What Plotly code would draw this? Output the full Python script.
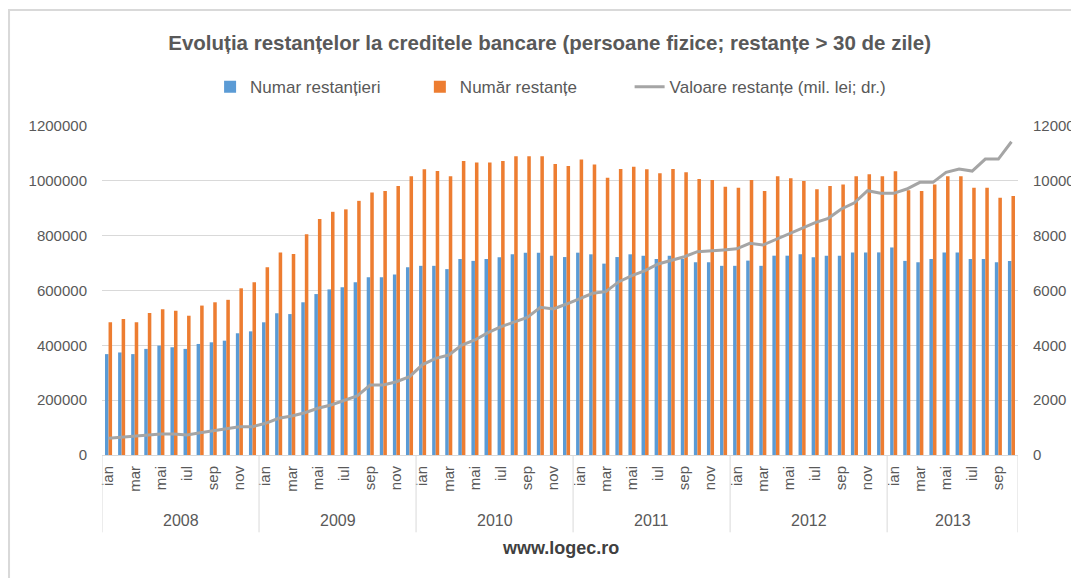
import plotly.graph_objects as go

years = ["2008", "2009", "2010", "2011", "2012", "2013"]
months = ["ian", "feb", "mar", "apr", "mai", "iun", "iul", "aug", "sep", "oct", "nov", "dec"]

# Numar restantieri (left axis)
restantieri = [
    368000, 374000, 368000, 387000, 399000, 393000, 387000, 405000, 411000, 417000, 444000, 451000,
    484000, 517000, 514000, 557000, 587000, 604000, 612000, 630000, 648000, 648000, 658000, 685000,
    690000, 690000, 678000, 715000, 708000, 715000, 721000, 732000, 738000, 738000, 727000, 722000,
    738000, 732000, 698000, 722000, 732000, 727000, 715000, 727000, 715000, 703000, 703000, 690000,
    690000, 709000, 690000, 727000, 727000, 732000, 721000, 727000, 727000, 739000, 739000, 739000,
    757000, 708000, 703000, 715000, 739000, 739000, 715000, 715000, 703000, 708000,
]

# Numar restante (left axis)
restante = [
    484000, 496000, 484000, 518000, 532000, 526000, 508000, 545000, 557000, 566000, 608000, 630000,
    685000, 739000, 733000, 805000, 861000, 887000, 896000, 927000, 957000, 963000, 981000, 1017000,
    1042000, 1036000, 1017000, 1072000, 1067000, 1067000, 1072000, 1090000, 1090000, 1090000, 1061000, 1054000,
    1078000, 1060000, 1011000, 1043000, 1051000, 1042000, 1028000, 1043000, 1031000, 1007000, 1003000, 978000,
    975000, 1003000, 963000, 1017000, 1009000, 999000, 969000, 981000, 987000, 1017000, 1024000, 1017000,
    1035000, 966000, 963000, 987000, 1017000, 1017000, 975000, 975000, 938000, 945000,
]

# Valoare restante (mil. lei; right axis)
valoare = [
    609, 646, 668, 704, 766, 766, 729, 813, 886, 974, 1032, 1032,
    1156, 1338, 1422, 1543, 1703, 1824, 1980, 2152, 2553, 2553, 2673, 2856,
    3300, 3526, 3647, 4012, 4194, 4461, 4680, 4862, 5021, 5386, 5325, 5507,
    5714, 5897, 5957, 6322, 6540, 6722, 6966, 7086, 7232, 7415, 7440, 7480,
    7520, 7720, 7659, 7866, 8085, 8292, 8475, 8632, 8972, 9201, 9639, 9544,
    9544, 9701, 9945, 9945, 10310, 10430, 10357, 10795, 10795, 11426,
]

n = len(valoare)
x = list(range(n))
month_labels = [months[i % 12] for i in range(n)]
tickvals = [i for i in range(n) if i % 2 == 0]
ticktext = [month_labels[i] for i in tickvals]

FONT = "Liberation Sans"
GRAY = "#595959"

fig = go.Figure()
fig.add_trace(go.Bar(x=x, y=restantieri, name="Numar restanțieri", marker_color="#5b9bd5",
                     marker_line_width=0, legend="legend"))
fig.add_trace(go.Bar(x=x, y=restante, name="Număr restanțe", marker_color="#ed7d31",
                     marker_line_width=0, legend="legend2"))
fig.add_trace(go.Scatter(x=x, y=valoare, name="Valoare restanțe (mil. lei; dr.)", yaxis="y2",
                         mode="lines", line=dict(color="#a5a5a5", width=3), legend="legend3"))

# year labels
nyears = (n + 11) // 12
for k in range(nyears):
    start = k * 12 - 0.5
    end = min(k * 12 + 11.5, n - 0.5)
    fig.add_annotation(x=(start + end) / 2, y=-0.198, xref="x", yref="paper", text=years[k],
                       showarrow=False, font=dict(family=FONT, size=16, color=GRAY),
                       yanchor="middle")
# dividers
div_pos = [k * 12 - 0.5 for k in range(nyears)] + [n - 0.5]
for p in div_pos:
    fig.add_shape(type="line", x0=p, x1=p, xref="x", y0=0, y1=-0.235, yref="paper",
                  line=dict(color="#d9d9d9", width=1))

fig.add_annotation(x=0.501, y=-0.283, xref="paper", yref="paper", text="<b>www.logec.ro</b>",
                   showarrow=False, font=dict(family=FONT, size=18, color="#404040"),
                   yanchor="middle")

# chart border
fig.add_shape(type="rect", xref="paper", yref="paper", x0=-0.1015, x1=1.2, y0=-0.6, y1=1.3526,
              line=dict(color="#d9d9d9", width=2), layer="below")

leg_common = dict(orientation="h", xanchor="left", y=1.118, yanchor="middle",
                  font=dict(family=FONT, size=17, color=GRAY), bgcolor="rgba(0,0,0,0)",
                  itemwidth=30)

fig.update_layout(
    width=1079, height=578,
    margin=dict(l=94, r=69, t=118, b=131),
    paper_bgcolor="white", plot_bgcolor="white",
    title=dict(text="<b>Evoluția restanțelor la creditele bancare (persoane fizice; restanțe > 30 de zile)</b>",
               x=0.502, xanchor="center", y=1 - 35 / 578, yanchor="middle",
               font=dict(family=FONT, size=20.5, color=GRAY)),
    barmode="group", bargap=0.46, bargroupgap=0,
    showlegend=True,
    legend=dict(x=0.118, **leg_common),
    legend2=dict(x=0.347, **leg_common),
    legend3=dict(x=0.576, **leg_common),
    xaxis=dict(range=[-0.5, n - 0.5], tickmode="array", tickvals=tickvals, ticktext=ticktext,
               tickangle=-90, showgrid=False, zeroline=False, showline=True,
               linecolor="#d9d9d9", linewidth=1, ticks="",
               tickfont=dict(family=FONT, size=15, color=GRAY), ticklabelstandoff=4),
    yaxis=dict(range=[0, 1200000], dtick=200000, tickformat="d", showgrid=True,
               gridcolor="#d9d9d9", gridwidth=1, zeroline=False, showline=False,
               tickfont=dict(family=FONT, size=15, color=GRAY), ticklabelstandoff=14),
    yaxis2=dict(range=[0, 12000], dtick=2000, tickformat="d", overlaying="y", side="right",
                showgrid=False, zeroline=False, showline=False,
                tickfont=dict(family=FONT, size=15, color=GRAY), ticklabelstandoff=14),
)

fig.write_html("out.html")
